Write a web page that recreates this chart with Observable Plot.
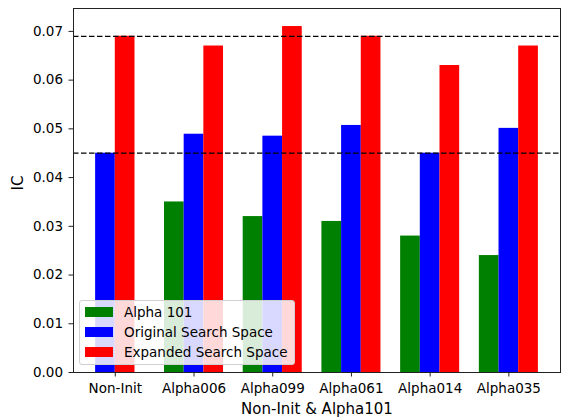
<!DOCTYPE html>
<html>
<head>
<meta charset="utf-8">
<script src="https://cdn.jsdelivr.net/npm/d3@7"></script>
<script src="https://cdn.jsdelivr.net/npm/@observablehq/plot@0.6"></script>
<style>
  body { margin: 0; background: #fff; font-family: "DejaVu Sans", sans-serif; }
  #wrap { position: relative; width: 561px; height: 418px; }
  #legend { position: absolute; left: 79px; top: 300px; width: 216px; height: 65px;
    border: 1px solid #d0d0d0; border-radius: 3px; background: rgba(255,255,255,0.85);
    box-sizing: border-box; }
  .row { position: absolute; left: 0; height: 20px; }
  .sw { position: absolute; left: 5px; top: 5px; width: 28px; height: 10px; }
  .lt { position: absolute; left: 44px; top: 2px; font-size: 13.5px; line-height: 16px; white-space: nowrap; color: #000; }
</style>
</head>
<body>
<div id="wrap"><div id="legend"></div></div>
<script>
const categories = ["Non-Init", "Alpha006", "Alpha099", "Alpha061", "Alpha014", "Alpha035"];
const alpha101 = [null, 0.035, 0.032, 0.031, 0.028, 0.024];
const original = [0.045, 0.0489, 0.0485, 0.0507, 0.045, 0.0501];
const expanded = [0.069, 0.067, 0.071, 0.069, 0.063, 0.067];
const refLines = [0.045, 0.069];
const seriesNames = ["Alpha 101", "Original Search Space", "Expanded Search Space"];
const seriesColors = ["#008000", "#0000ff", "#ff0000"];
const yTicks = [0, 0.01, 0.02, 0.03, 0.04, 0.05, 0.06, 0.07];
const xLabel = "Non-Init & Alpha101";
const yLabel = "IC";

const barWidth = 0.25;
const seriesValues = [alpha101, original, expanded];
const rows = [];
categories.forEach((cat, i) => {
  const present = seriesValues.map((vals, s) => s).filter(s => seriesValues[s][i] != null);
  const n = present.length;
  present.forEach((s, k) => {
    const x1 = i + (k - n / 2) * barWidth;
    rows.push({cat, series: seriesNames[s], value: seriesValues[s][i], x1, x2: x1 + barWidth});
  });
});

const chart = Plot.plot({
  width: 561,
  height: 418,
  marginLeft: 73,
  marginRight: 1,
  marginTop: 8,
  marginBottom: 46,
  style: {fontFamily: "DejaVu Sans, sans-serif", fontSize: "13.5px", color: "#000", background: "#fff"},
  x: {type: "linear", domain: [-0.531, 5.656]},
  y: {domain: [0, 0.0747]},
  color: {domain: seriesNames, range: seriesColors},
  marks: [
    Plot.rectY(rows, {x1: "x1", x2: "x2", y: "value", fill: "series"}),
    Plot.ruleY(refLines, {stroke: "#000", strokeWidth: 1.3, strokeDasharray: "5.5,2.5"}),
    Plot.frame({stroke: "#222", strokeWidth: 1}),
    Plot.axisX(d3.range(categories.length), {tickFormat: i => categories[i], tickSize: 4.5, tickPadding: 6, label: null, fontSize: 13.5, stroke: "#222"}),
    Plot.axisY(yTicks, {tickFormat: d3.format(".2f"), tickSize: 4.5, tickPadding: 6, label: null, fontSize: 13.5, stroke: "#222"}),
    Plot.text([xLabel], {frameAnchor: "bottom", dy: 37, lineAnchor: "middle", fontSize: 15}),
    Plot.text([yLabel], {frameAnchor: "left", dx: -55, rotate: -90, lineAnchor: "middle", fontSize: 15})
  ]
});
document.getElementById("wrap").prepend(chart);

const legend = document.getElementById("legend");
seriesNames.forEach((name, s) => {
  const row = document.createElement("div");
  row.className = "row";
  row.style.top = (1 + s * 20) + "px";
  row.style.width = "100%";
  const sw = document.createElement("div");
  sw.className = "sw";
  sw.style.background = seriesColors[s];
  const lt = document.createElement("div");
  lt.className = "lt";
  lt.textContent = name;
  row.appendChild(sw);
  row.appendChild(lt);
  legend.appendChild(row);
});
</script>
</body>
</html>
